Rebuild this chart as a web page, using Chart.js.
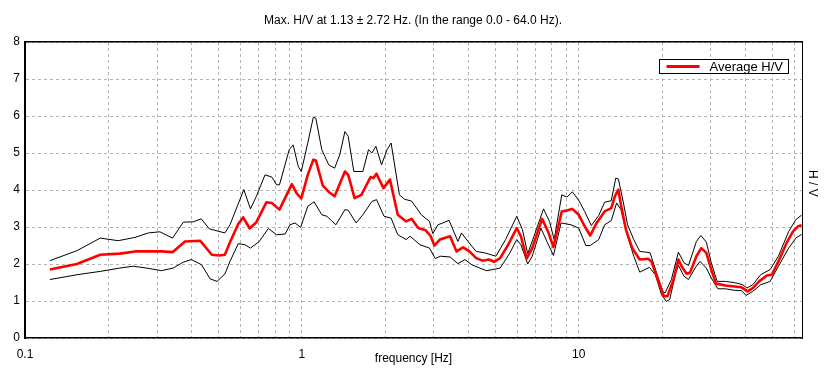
<!DOCTYPE html>
<html><head><meta charset="utf-8">
<script src="https://cdn.jsdelivr.net/npm/chart.js@4.4.1/dist/chart.umd.min.js"></script>
<style>html,body{margin:0;padding:0;background:#fff;}#wrap{width:826px;height:381px;}</style>
</head><body><div id="wrap"><canvas id="c" width="826" height="381"></canvas></div>
<script>
const chartTitle = 'Max. H/V at 1.13 \u00B1 2.72 Hz. (In the range 0.0 - 64.0 Hz).';
const xTitle = 'frequency [Hz]';
const yTitle = 'H / V';
const legendLabel = 'Average H/V';

const freqAvg = [0.123,0.154,0.187,0.220,0.250,0.311,0.341,0.378,0.429,0.473,0.502,0.527,0.550,0.589,0.614,0.648,0.685,0.745,0.779,0.830,0.920,0.955,0.995,1.05,1.10,1.123,1.19,1.254,1.313,1.43,1.47,1.55,1.64,1.77,1.81,1.86,1.97,2.08,2.22,2.38,2.49,2.63,2.80,2.92,3.01,3.15,3.43,3.62,3.82,4.03,4.26,4.49,4.74,4.94,5.20,5.56,5.97,6.18,6.49,6.79,7.37,7.74,8.10,8.68,9.11,9.48,10.0,10.5,11.0,11.6,12.4,13.1,13.5,13.9,14.2,14.8,15.6,16.6,17.8,18.3,19.3,20.3,20.9,22.0,22.9,23.5,24.5,25.2,26.6,27.7,28.9,30.1,31.3,33.9,35.8,38.7,40.7,42.5,44.8,47.8,49.8,52.6,56.3,59.4,62.0,63.8];
const hvAvg = [1.85,2.00,2.25,2.28,2.34,2.34,2.32,2.61,2.63,2.25,2.23,2.25,2.59,3.08,3.26,2.96,3.13,3.67,3.65,3.47,4.16,3.92,3.77,4.41,4.82,4.80,4.12,3.94,3.83,4.50,4.41,3.78,3.87,4.35,4.32,4.44,4.05,4.28,3.33,3.15,3.22,2.97,2.91,2.75,2.50,2.66,2.75,2.34,2.45,2.34,2.16,2.09,2.12,2.06,2.16,2.52,2.97,2.75,2.15,2.43,3.22,2.88,2.46,3.42,3.45,3.49,3.33,3.02,2.77,3.11,3.42,3.51,3.83,4.01,3.60,2.93,2.43,2.12,2.14,2.07,1.58,1.13,1.13,1.58,2.12,1.94,1.74,1.76,2.21,2.43,2.30,1.85,1.47,1.42,1.40,1.37,1.26,1.35,1.53,1.69,1.71,2.07,2.57,2.88,3.02,3.05];

const freqUp = [0.123,0.154,0.187,0.217,0.250,0.279,0.307,0.341,0.373,0.405,0.433,0.463,0.527,0.550,0.617,0.652,0.685,0.736,0.779,0.810,0.830,0.900,0.930,0.970,0.995,1.05,1.10,1.123,1.18,1.25,1.313,1.37,1.43,1.47,1.54,1.66,1.74,1.79,1.85,1.94,2.03,2.10,2.25,2.35,2.49,2.70,2.89,2.97,3.10,3.23,3.40,3.66,3.77,3.98,4.26,4.58,4.82,5.02,5.44,5.97,6.26,6.54,6.89,7.46,7.84,8.15,8.68,9.06,9.48,10.0,10.5,11.1,11.8,12.4,13.1,13.6,13.9,14.5,15.0,15.8,16.6,17.5,18.1,19.1,20.1,20.5,21.6,22.9,24.0,24.9,26.6,27.6,28.9,30.1,31.6,33.9,36.9,39.1,40.5,42.5,45.4,49.1,52.6,57.3,60.8,63.8];
const hvUp = [2.09,2.36,2.70,2.63,2.72,2.84,2.87,2.70,3.13,3.14,3.22,2.95,2.84,3.06,4.01,3.49,3.83,4.41,4.35,4.14,4.14,5.09,5.22,4.64,4.50,5.27,5.97,5.94,5.09,4.68,4.59,4.95,5.58,5.45,4.50,4.50,5.09,5.00,5.18,4.68,5.09,5.27,3.87,3.75,3.70,3.33,3.15,2.82,3.06,3.11,3.18,2.61,2.84,2.61,2.34,2.30,2.25,2.21,2.66,3.29,2.93,2.28,2.75,3.49,3.15,2.66,3.87,3.81,3.95,3.72,3.42,3.04,3.31,3.67,3.71,4.32,4.30,3.65,3.06,2.66,2.34,2.32,2.30,1.76,1.26,1.22,1.58,2.32,2.03,1.96,2.61,2.77,2.59,2.03,1.53,1.53,1.49,1.44,1.35,1.44,1.71,1.85,2.21,2.88,3.20,3.32];

const freqLow = [0.123,0.154,0.187,0.220,0.246,0.275,0.311,0.343,0.373,0.399,0.434,0.466,0.494,0.527,0.550,0.589,0.623,0.652,0.700,0.757,0.810,0.870,0.906,0.944,0.990,1.05,1.107,1.18,1.23,1.28,1.327,1.43,1.47,1.57,1.66,1.79,1.86,1.98,2.10,2.22,2.38,2.46,2.67,2.89,3.03,3.17,3.43,3.66,3.88,4.11,4.39,4.64,4.89,5.20,5.64,5.97,6.18,6.54,6.79,7.30,7.67,8.10,8.63,9.37,10.0,10.6,11.0,11.8,12.4,13.1,13.7,14.2,15.0,15.8,16.6,18.0,18.9,19.9,20.7,21.3,22.4,22.9,24.0,24.9,26.3,27.4,28.9,30.1,31.8,33.9,36.4,38.7,40.2,42.5,45.4,49.1,52.6,57.3,60.8,63.8];
const hvLow = [1.58,1.71,1.80,1.89,1.94,1.89,1.82,1.89,2.05,2.12,1.98,1.60,1.53,1.73,2.07,2.55,2.52,2.43,2.60,2.96,2.79,2.81,3.06,3.11,2.99,3.56,3.68,3.33,3.29,3.17,3.06,3.47,3.45,3.11,3.33,3.69,3.74,3.29,3.24,2.79,2.66,2.75,2.52,2.43,2.15,2.21,2.19,2.01,2.12,1.98,1.89,1.82,1.85,1.89,2.30,2.66,2.52,2.00,2.21,2.97,2.61,2.23,3.11,3.06,2.97,2.50,2.50,2.66,3.06,3.17,3.65,3.47,2.75,2.21,1.78,1.91,1.71,1.17,0.99,1.04,1.76,1.96,1.67,1.58,1.89,2.07,1.89,1.62,1.33,1.33,1.29,1.28,1.15,1.26,1.44,1.53,1.94,2.43,2.70,2.80];

const xTickValues = [0.1,0.2,0.3,0.4,0.5,0.6,0.7,0.8,0.9,1,2,3,4,5,6,7,8,9,10,20,30,40,50,60];
const xLabeledTicks = [0.1, 1, 10];
const xTickLabels = ['0.1', '1', '10'];
const yTickLabels = ['0','1','2','3','4','5','6','7','8'];

const FONT = "'Liberation Sans', Arial, sans-serif";
const pts = (xs, ys) => xs.map((x, i) => ({x: x, y: ys[i]}));

const legendBox = {
  id: 'legendBox',
  afterDraw(chart) {
    const ctx = chart.ctx, ca = chart.chartArea;
    const ds = chart.data.datasets[0];
    ctx.save();
    ctx.font = '13px ' + FONT;
    const tw = ctx.measureText(ds.label).width;
    const right = ca.right - 14, top = ca.top + 17.5, h = 14;
    const textX = right - 5 - tw;
    const lineEnd = textX - 10, lineStart = lineEnd - 33;
    const left = lineStart - 8;
    ctx.fillStyle = '#fff';
    ctx.fillRect(left, top, right - left, h);
    ctx.strokeStyle = '#000';
    ctx.lineWidth = 1;
    ctx.strokeRect(Math.round(left) + 0.5, top, Math.round(right - left), h);
    ctx.strokeStyle = ds.borderColor;
    ctx.lineWidth = 3;
    ctx.beginPath();
    ctx.moveTo(lineStart, top + h / 2);
    ctx.lineTo(lineEnd, top + h / 2);
    ctx.stroke();
    ctx.fillStyle = '#000';
    ctx.textBaseline = 'middle';
    ctx.textAlign = 'left';
    ctx.fillText(ds.label, textX, top + h / 2 + 0.5);
    ctx.restore();
  }
};

new Chart(document.getElementById('c'), {
  type: 'line',
  data: {
    datasets: [
      {label: legendLabel, data: pts(freqAvg, hvAvg), borderColor: '#ff0000', backgroundColor: '#ff0000', borderWidth: 2.6, order: 0},
      {label: 'Upper', data: pts(freqUp, hvUp), borderColor: '#000000', backgroundColor: '#000000', borderWidth: 1, order: 1},
      {label: 'Lower', data: pts(freqLow, hvLow), borderColor: '#000000', backgroundColor: '#000000', borderWidth: 1, order: 2}
    ]
  },
  options: {
    responsive: false,
    animation: false,
    devicePixelRatio: 1,
    elements: {point: {radius: 0, hoverRadius: 0}, line: {tension: 0, borderJoinStyle: 'round'}},
    layout: {padding: 0},
    plugins: {
      legend: {display: false},
      tooltip: {enabled: false},
      title: {display: true, text: chartTitle, color: '#000', font: {family: FONT, size: 12, weight: 'normal'}, padding: {top: 13, bottom: 14.6}}
    },
    scales: {
      x: {
        type: 'logarithmic', position: 'bottom', min: 0.1, max: 64,
        afterBuildTicks: s => { s.ticks = xTickValues.map(v => ({value: v})); },
        afterFit: s => { s.height = 43; },
        ticks: {autoSkip: false, maxRotation: 0, minRotation: 0, padding: 9, color: '#000', font: {family: FONT, size: 12},
          callback: v => { const i = xLabeledTicks.indexOf(v); return i >= 0 ? xTickLabels[i] : ''; }},
        grid: {color: '#b4b4b4', lineWidth: 1, drawTicks: false},
        border: {display: true, color: '#000', width: 1.5, dash: [3, 3]},
        title: {display: true, text: xTitle, color: '#000', font: {family: FONT, size: 12}, padding: {top: 0, bottom: 14.8}}
      },
      y: {
        type: 'linear', position: 'left', min: 0, max: 8,
        afterFit: s => { s.width = 25; },
        ticks: {stepSize: 1, padding: 5, color: '#000', font: {family: FONT, size: 12},
          callback: (v) => yTickLabels[v] !== undefined ? yTickLabels[v] : ''},
        grid: {color: '#b4b4b4', lineWidth: 1, drawTicks: false},
        border: {display: true, color: '#000', width: 2, dash: [3, 3]}
      },
      x2: {
        type: 'linear', position: 'top', display: true,
        afterFit: s => { s.height = 0; },
        ticks: {display: false},
        grid: {display: false, drawTicks: false},
        border: {display: true, color: '#000', width: 1.5}
      },
      y2: {
        type: 'linear', position: 'right', display: true,
        afterFit: s => { s.width = 24; },
        ticks: {display: false},
        grid: {display: false, drawTicks: false},
        border: {display: true, color: '#000', width: 1},
        title: {display: true, text: yTitle + '    ', color: '#000', font: {family: FONT, size: 12}, padding: {top: 6.3, bottom: 0}}
      }
    }
  },
  plugins: [legendBox]
});
</script>
</body></html>
